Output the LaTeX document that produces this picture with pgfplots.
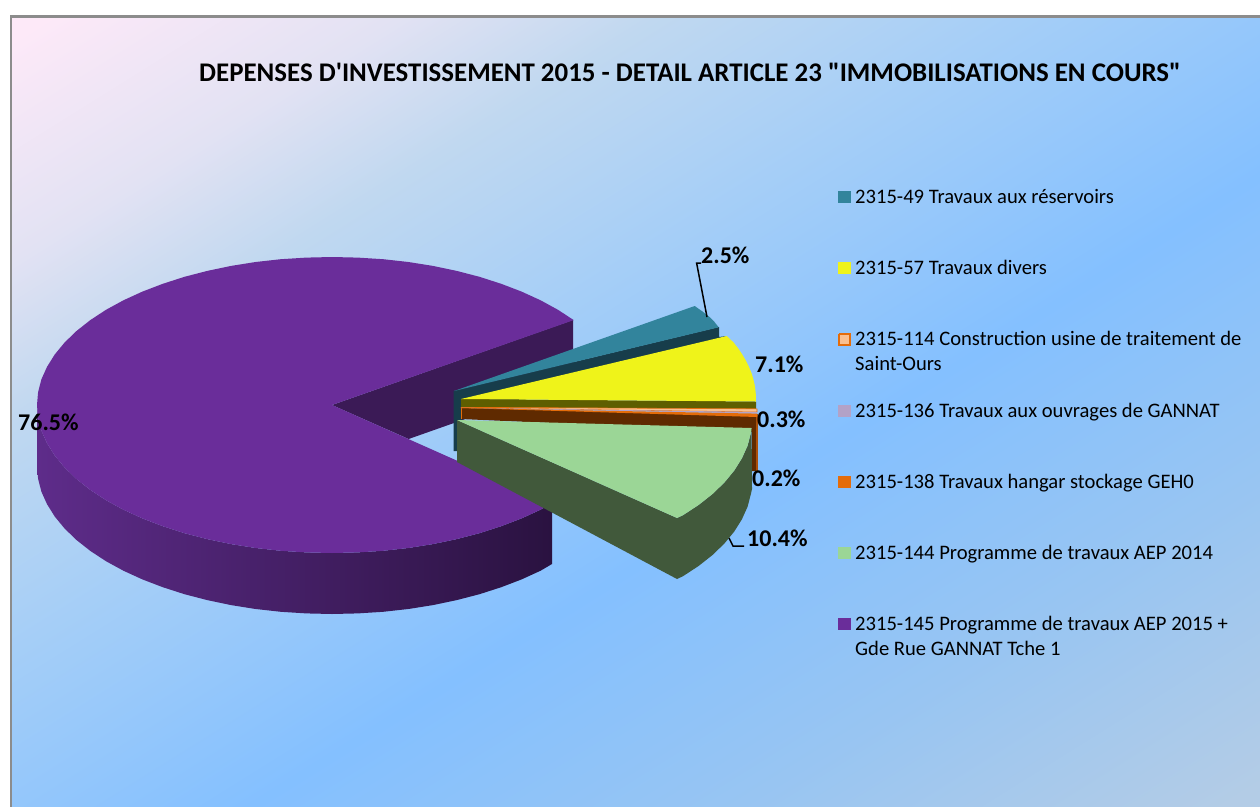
\documentclass[border=0pt]{standalone}
\usepackage{pgfplots}
\pgfplotsset{compat=1.18}
\usepackage{fontspec}
\setmainfont{Carlito}[Ligatures=TeXOff]
\definecolor{cpurple}{HTML}{6A2D9A}
\definecolor{cpurpled}{HTML}{3B1A56}
\definecolor{cwallA}{HTML}{5E2C8A}
\definecolor{cwallB}{HTML}{43205F}
\definecolor{cwallC}{HTML}{2A1240}
\definecolor{cteal}{HTML}{32849C}
\definecolor{ctealD}{HTML}{173D4B}
\definecolor{cyellow}{HTML}{EFF31A}
\definecolor{colive}{HTML}{5E5E00}
\definecolor{cgreen}{HTML}{9BD696}
\definecolor{cgreenD}{HTML}{41593B}
\definecolor{cbrown}{HTML}{5F2A00}
\definecolor{cbrownE}{HTML}{AA500A}
\definecolor{corange}{HTML}{E46C0A}
\definecolor{clorange}{HTML}{FAC090}
\definecolor{clilac}{HTML}{B3A2C7}
\definecolor{cframe}{HTML}{8C8C8C}
\definecolor{cA}{HTML}{FDE9F8}
\definecolor{cB}{HTML}{E2E2F3}
\definecolor{cC}{HTML}{C0D8F0}
\definecolor{cD}{HTML}{A5CEF7}
\definecolor{cE}{HTML}{84C0FF}
\definecolor{cF}{HTML}{98C5F2}
\definecolor{cG}{HTML}{B3CCE6}
\pgfdeclarehorizontalshading{bgshade}{100bp}{
 color(0bp)=(cA);color(16.5bp)=(cA);color(26.2bp)=(cB);color(33.2bp)=(cC);color(43.3bp)=(cD);
 color(56.7bp)=(cE);color(70.1bp)=(cF);color(83.5bp)=(cG);color(100bp)=(cG)}
\begin{document}
\begin{tikzpicture}
\path[use as bounding box] (0,0) rectangle (1260pt,806pt);
\begin{axis}[
  at={(0pt,0pt)}, anchor=south west,
  scale only axis, width=1260pt, height=806pt,
  xmin=0, xmax=1260, ymin=0, ymax=806, y dir=reverse,
  hide axis, clip=true,
  every axis plot/.append style={mark=none, draw=none},
]
% background
\addplot[shading=bgshade, shading angle=-58, draw=none] coordinates {(11,16.5) (1262,16.5) (1262,808) (11,808)};
\addplot[draw=cframe, line width=2.4pt] coordinates {(11,808) (11,16.5) (1262,16.5)};
% purple cut face
\addplot[fill=cpurpled] coordinates {(332,405) (573,320) (573,381) (408.6,439)};
% purple outer wall
\addplot[left color=cwallA, middle color=cwallB, right color=cwallC, draw=none] coordinates {
(37,405) (38.1,417.9) (41.4,430.7) (47.1,443.3) (54.8,455.6) (64.6,467.5) (76.5,479) (90.3,489.9) (106,500.2) (123.4,509.7) (142.4,518.4) (162.8,526.2) (184.5,533.2) (207.3,539.1) (231.1,544.1) (255.6,548) (280.8,550.8) (306.3,552.4) (332,553) (357.7,552.4) (383.2,550.8) (408.4,548) (432.9,544.1) (456.7,539.1) (479.5,533.2) (501.2,526.2) (521.6,518.4) (540.6,509.7) (552,503)
(552,564) (540.6,570.7) (521.6,579.4) (501.2,587.2) (479.5,594.2) (456.7,600.1) (432.9,605.1) (408.4,609) (383.2,611.8) (357.7,613.4) (332,614) (306.3,613.4) (280.8,611.8) (255.6,609) (231.1,605.1) (207.3,600.1) (184.5,594.2) (162.8,587.2) (142.4,579.4) (123.4,570.7) (106,561.2) (90.3,550.9) (76.5,540) (64.6,528.5) (54.8,516.6) (47.1,504.3) (41.4,491.7) (38.1,478.9) (37,466)};
% purple top
\addplot[fill=cpurple] coordinates {
(332,405) (573.7,320.1) (558,309.8) (540.6,300.3) (521.6,291.6) (501.2,283.8) (479.5,276.8) (456.7,270.9) (432.9,265.9) (408.4,262) (383.2,259.2) (357.7,257.6) (332,257) (306.3,257.6) (280.8,259.2) (255.6,262) (231.1,265.9) (207.3,270.9) (184.5,276.8) (162.8,283.8) (142.4,291.6) (123.4,300.3) (106,309.8) (90.3,320.1) (76.5,331) (64.6,342.5) (54.8,354.4) (47.1,366.7) (41.4,379.3) (38.1,392.1) (37,405) (38.1,417.9) (41.4,430.7) (47.1,443.3) (54.8,455.6) (64.6,467.5) (76.5,479) (90.3,489.9) (106,500.2) (123.4,509.7) (142.4,518.4) (162.8,526.2) (184.5,533.2) (207.3,539.1) (231.1,544.1) (255.6,548) (280.8,550.8) (306.3,552.4) (332,553) (357.7,552.4) (383.2,550.8) (408.4,548) (432.9,544.1) (456.7,539.1) (479.5,533.2) (501.2,526.2) (521.6,518.4) (540.6,509.7) (552,503)};
% teal slice
\addplot[fill=ctealD] coordinates {(453.5,391) (719,327) (719,337) (727,336) (461,420) (457,420) (457,451) (453.5,451)};
\addplot[fill=cteal] coordinates {(454,391) (694.7,306) (702.5,311.5) (709.5,317) (714.5,322) (718.7,327.3)};
% leader 2.5
\addplot[draw=black, line width=1.5pt] coordinates {(707,317) (696.6,263) (701,263)};
% brown wall and slab
\addplot[fill=cbrown] coordinates {(461,408) (757,415) (757,471) (752,471) (752,432) (461,419)};
\addplot[fill=cbrownE] coordinates {(755.5,414) (758,414) (758,471) (755.5,471)};
\addplot[draw=corange, line width=0.7pt] coordinates {(461,419) (461,408)};
% yellow slice
\addplot[fill=colive] coordinates {(461,399) (756,401.5) (756,409) (461,408)};
\addplot[fill=cyellow] coordinates {(461,399) (756,401.5) (755.7,392.5) (754.9,386.1) (753.5,379.7) (751.6,373.3) (749,367) (745.9,360.7) (742.3,354.5) (738.2,348.4) (733.5,342.4) (726.7,336)};
% thin slices
\addplot[fill=clorange, draw=corange, line width=0.6pt] coordinates {(461,407.3) (757,408.8) (757,412) (461,407.8) (461,407.3)};
\addplot[fill=clilac] coordinates {(461,407.8) (757,412) (757,413.6)};
\addplot[fill=corange] coordinates {(461,408) (757,413.6) (757,417)};
% green slice
\addplot[fill=cgreenD] coordinates {(457,420) (677,518) (683,515.2) (698.7,504.9) (712.5,494) (724.4,482.5) (734.2,470.6) (741.9,458.3) (747.6,445.7) (750.9,432.9) (751.6,428)
(752,489) (750.9,493.9) (747.6,506.7) (741.9,519.3) (734.2,531.6) (724.4,543.5) (712.5,555) (698.7,565.9) (683,576.2) (677,579) (457,462)};
\addplot[fill=cgreen] coordinates {(457,420) (751.6,428) (750.9,432.9) (747.6,445.7) (741.9,458.3) (734.2,470.6) (724.4,482.5) (712.5,494) (698.7,504.9) (683,515.2) (677,518)};
% leader 10.4
\addplot[draw=black, line width=1.5pt] coordinates {(729,538) (733,546) (744,546)};
% legend swatches
\addplot[fill=cteal] coordinates {(838,191) (851,191) (851,203) (838,203)};
\addplot[fill=cyellow] coordinates {(838,262) (851,262) (851,274) (838,274)};
\addplot[fill=clorange, draw=corange, line width=2pt] coordinates {(839,334) (850,334) (850,345) (839,345) (839,334)};
\addplot[fill=clilac] coordinates {(838,405) (851,405) (851,417) (838,417)};
\addplot[fill=corange] coordinates {(838,476) (851,476) (851,488) (838,488)};
\addplot[fill=cgreen] coordinates {(838,547) (851,547) (851,559) (838,559)};
\addplot[fill=cpurple] coordinates {(838,618) (851,618) (851,630) (838,630)};
% title
\node[anchor=base west, inner sep=0pt, font=\fontsize{26.9}{30}\selectfont\bfseries] at (axis cs:199,81) {DEPENSES D'INVESTISSEMENT 2015 - DETAIL ARTICLE 23 "IMMOBILISATIONS EN COURS"};
% legend text
\tikzset{lg/.style={anchor=base west, inner sep=0pt, font=\fontsize{20.6}{24}\selectfont}}
\node[lg] at (axis cs:855,203) {2315-49 Travaux aux réservoirs};
\node[lg] at (axis cs:855,274) {2315-57 Travaux divers};
\node[lg] at (axis cs:855,345) {2315-114 Construction usine de traitement de};
\node[lg] at (axis cs:855,370) {Saint-Ours};
\node[lg] at (axis cs:855,417) {2315-136 Travaux aux ouvrages de GANNAT};
\node[lg] at (axis cs:855,488) {2315-138 Travaux hangar stockage GEH0};
\node[lg] at (axis cs:855,559) {2315-144 Programme de travaux AEP 2014};
\node[lg] at (axis cs:855,630) {2315-145 Programme de travaux AEP 2015 +};
\node[lg] at (axis cs:855,655) {Gde Rue GANNAT Tche 1};
% data labels
\tikzset{dl/.style={anchor=base west, inner sep=0pt, font=\fontsize{24}{28}\selectfont\bfseries}}
\node[dl] at (axis cs:701,263) {2.5\%};
\node[dl] at (axis cs:755,372) {7.1\%};
\node[dl] at (axis cs:757,427) {0.3\%};
\node[dl] at (axis cs:752,486) {0.2\%};
\node[dl] at (axis cs:747,546) {10.4\%};
\node[dl] at (axis cs:18,430) {76.5\%};
\end{axis}
\end{tikzpicture}
\end{document}
